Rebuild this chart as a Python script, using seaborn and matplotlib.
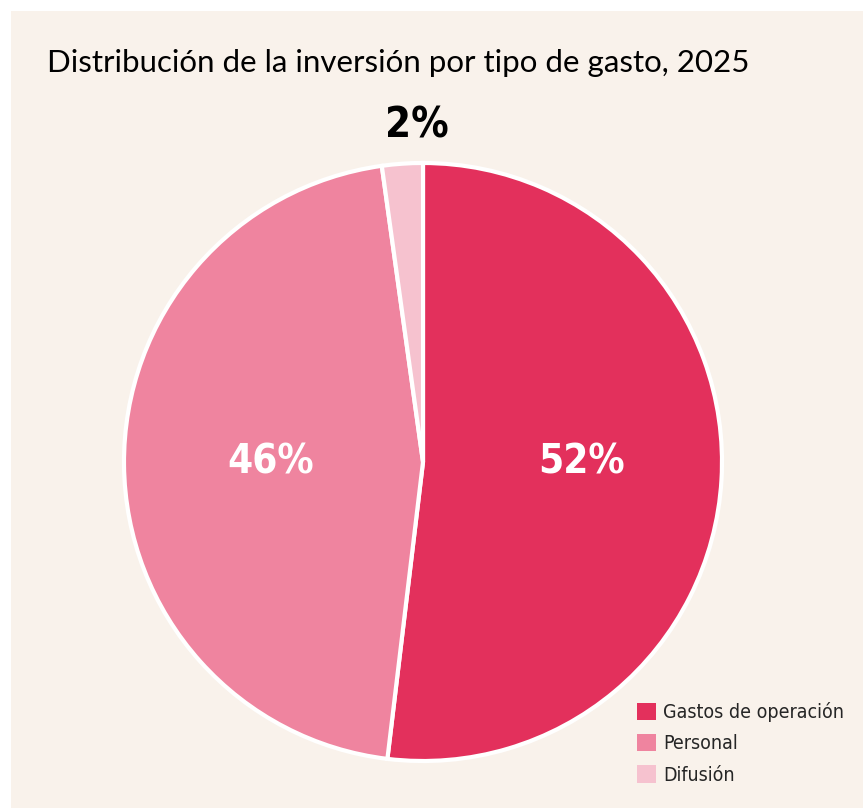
import numpy as np
import pandas as pd
import seaborn as sns
import matplotlib.pyplot as plt

# data
categories = ["Gastos de operación", "Personal", "Difusión"]
shares = [51.9, 45.9, 2.2]
labels = ["52%", "46%", "2%"]
colors = ["#E3305C", "#EF849F", "#F6C2CF"]

sns.set_theme(style="white")
plt.rcParams['font.family'] = ['Lato', 'DejaVu Sans']

fig = plt.figure(figsize=(8.63, 8.08), dpi=100)
fig.patch.set_facecolor("white")
# cream panel
bg = fig.add_axes([11 / 863, 0, 1 - 11 / 863, 1 - 11 / 808], zorder=-1)
bg.set_facecolor("#F9F2EB")
bg.set_xticks([])
bg.set_yticks([])
for s in bg.spines.values():
    s.set_visible(False)

ax = fig.add_axes([121 / 863, 44 / 808, 604 / 863, 604 / 808])
ax.set_facecolor("none")
wedges, _ = ax.pie(shares, colors=colors, startangle=90, counterclock=False,
                   wedgeprops=dict(edgecolor="white", linewidth=3))
ax.set_xlim(-1.01, 1.01)
ax.set_ylim(-1.01, 1.01)
ax.set_aspect("equal")

narrow = dict(family="DejaVu Sans", stretch="condensed")
ax.text(0.53, 0.0, labels[0], ha="center", va="center", color="white",
        fontsize=29, fontweight="bold", **narrow)
ax.text(-0.51, 0.0, labels[1], ha="center", va="center", color="white",
        fontsize=29, fontweight="bold", **narrow)
ax.text(-0.02, 1.125, labels[2], ha="center", va="center", color="black",
        fontsize=30, fontweight="bold", **narrow)

fig.text(47 / 863, 1 - 63 / 808, "Distribución de la inversión por tipo de gasto, 2025",
         ha="left", va="center", fontsize=22.5, color="black")

leg = fig.legend(wedges, categories, loc="upper left", bbox_to_anchor=(637 / 863, 1 - 702 / 808),
                 frameon=False, handlelength=1.0, handleheight=1.0, handletextpad=0.35,
                 labelspacing=0.62, borderpad=0, borderaxespad=0,
                 prop=dict(size=14, **narrow))
for h in leg.legend_handles:
    h.set_edgecolor("none")

fig.savefig("out.png", dpi=100)
